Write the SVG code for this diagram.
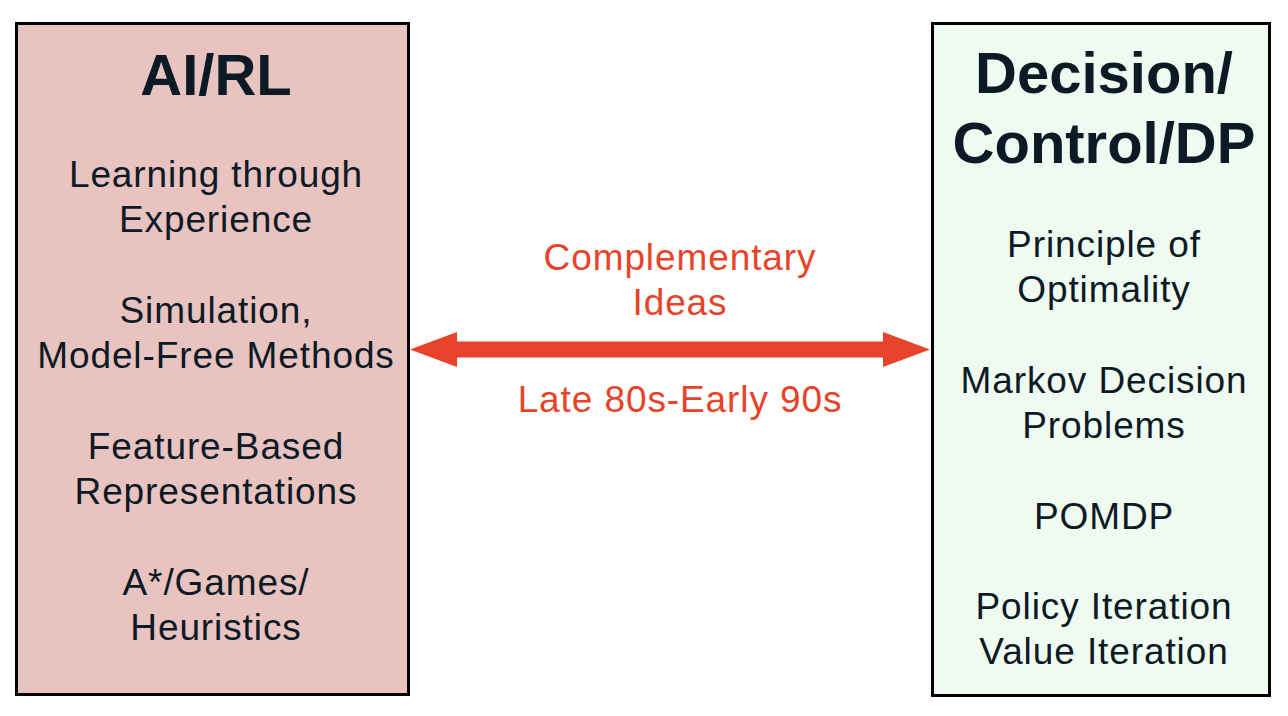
<svg xmlns="http://www.w3.org/2000/svg" width="1288" height="716" viewBox="0 0 1288 716">
<style>
.box{stroke:#000;stroke-width:3}
.t{font-family:"Liberation Sans",Arial,sans-serif;font-size:37px;letter-spacing:0.9px;fill:#0b1a24;text-anchor:middle}
.h{font-family:"Liberation Sans",Arial,sans-serif;font-size:58px;font-weight:bold;fill:#0b1a24;text-anchor:middle}
.r{font-family:"Liberation Sans",Arial,sans-serif;font-size:37px;letter-spacing:0.9px;fill:#e8432a;text-anchor:middle}
</style>
<rect width="1288" height="716" fill="#fff"/>
<g id="ai-rl">
<rect class="box" x="16.5" y="23.5" width="392" height="671" fill="#e8c3c0"/>
<text class="h" x="216" y="95">AI/RL</text>
<text class="t" x="216" y="187">Learning through</text>
<text class="t" x="216" y="232">Experience</text>
<text class="t" x="216" y="323">Simulation,</text>
<text class="t" x="216" y="368">Model-Free Methods</text>
<text class="t" x="216" y="459">Feature-Based</text>
<text class="t" x="216" y="504">Representations</text>
<text class="t" x="216" y="595">A*/Games/</text>
<text class="t" x="216" y="640">Heuristics</text>
</g>
<g id="decision-control">
<rect class="box" x="932.5" y="23.5" width="337" height="672" fill="#effaf1"/>
<text class="h" x="1104" y="93">Decision/</text>
<text class="h" x="1104" y="163">Control/DP</text>
<text class="t" x="1104" y="257">Principle of</text>
<text class="t" x="1104" y="302">Optimality</text>
<text class="t" x="1104" y="393">Markov Decision</text>
<text class="t" x="1104" y="438">Problems</text>
<text class="t" x="1104" y="529">POMDP</text>
<text class="t" x="1104" y="619">Policy Iteration</text>
<text class="t" x="1104" y="664">Value Iteration</text>
</g>
<g id="connectors">
<polygon fill="#e8432a" points="410,349.5 457,332 457,341.5 883,341.5 883,332 930,349.5 883,367 883,357.5 457,357.5 457,367"/>
<text class="r" x="680" y="270">Complementary</text>
<text class="r" x="680" y="315">Ideas</text>
<text class="r" x="680" y="412">Late 80s-Early 90s</text>
</g>
</svg>
